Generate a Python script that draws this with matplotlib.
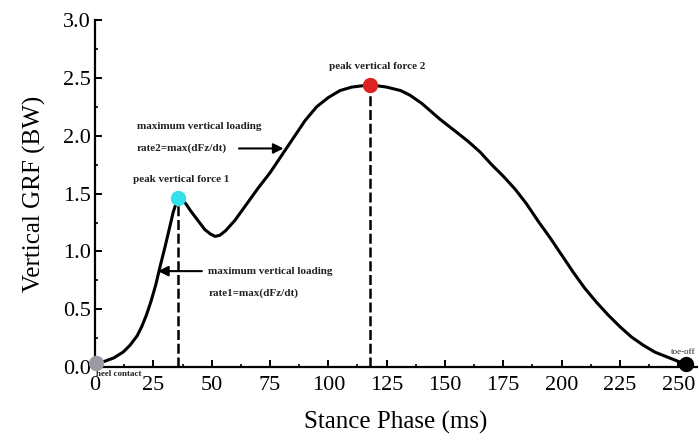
import numpy as np
import matplotlib.pyplot as plt
from matplotlib.ticker import MultipleLocator

# curve (ms, BW)
t = [0, 4, 8, 12, 15, 18, 20, 22, 24, 26, 28, 30, 32, 33.5, 35.5, 37,
     39, 41, 44, 47, 49.5, 51.5, 53.5, 56, 60, 65, 70, 75, 80, 85, 90, 95,
     100, 105, 110, 118, 125, 131, 135, 140, 148, 155, 160, 165, 170, 175,
     180, 185, 190, 195, 200, 205, 210, 215, 220, 225, 230, 235, 240, 245,
     250, 253.5]
grf = [0.04, 0.05, 0.08, 0.13, 0.19, 0.27, 0.35, 0.45, 0.57, 0.71, 0.88,
       1.04, 1.21, 1.34, 1.46, 1.45, 1.41, 1.35, 1.27, 1.19, 1.15, 1.13,
       1.14, 1.18, 1.27, 1.41, 1.55, 1.68, 1.83, 1.98, 2.13, 2.25, 2.33,
       2.39, 2.42, 2.44, 2.42, 2.39, 2.35, 2.28, 2.14, 2.03, 1.95, 1.86,
       1.75, 1.65, 1.54, 1.41, 1.26, 1.12, 0.97, 0.82, 0.68, 0.56, 0.45,
       0.35, 0.26, 0.19, 0.13, 0.09, 0.05, 0.03]

peak1 = (35.5, 1.46)
peak2 = (118, 2.44)
heel = (0.5, 0.04)
toe = (253.5, 0.03)

plt.rcParams['font.family'] = 'Liberation Serif'

fig = plt.figure(figsize=(6.99, 4.44), dpi=100)
ax = fig.add_axes([0.136, 0.173, 0.861, 0.782])

ax.plot(t, grf, color='black', lw=2.2, zorder=3,
        solid_joinstyle='round', solid_capstyle='round')

# dashed drop lines from the peaks
for p in [peak1, peak2]:
    ax.plot([p[0], p[0]], [0, p[1]], color='black', lw=1.8,
            ls=(0, (4, 1.5)), zorder=2)

ax.plot(*heel, 'o', color='#9a9aa6', ms=10, clip_on=False, zorder=4)
ax.plot(*peak1, 'o', color='#35e0e8', ms=10, clip_on=False, zorder=4)
ax.plot(*peak2, 'o', color='#dd2222', ms=10, clip_on=False, zorder=4)
ax.plot(*toe, 'o', color='black', ms=10, clip_on=False, zorder=4)

tk = dict(fontsize=8, fontweight='bold', color='#222222')
ax.text(37, 1.58, 'peak vertical force 1', ha='center', va='bottom', **tk)
ax.text(121, 2.56, 'peak vertical force 2', ha='center', va='bottom', **tk)
ax.text(18, 2.08, 'maximum vertical loading', ha='left', va='center', **tk)
ax.text(18, 1.89, 'rate2=max(dFz/dt)', ha='left', va='center', **tk)
ax.text(48.5, 0.83, 'maximum vertical loading', ha='left', va='center', **tk)
ax.text(48.5, 0.64, 'rate1=max(dFz/dt)', ha='left', va='center', **tk)
ax.text(0.5, -0.055, 'heel contact', ha='left', va='center',
        fontsize=6.5, fontweight='bold', color='#222222', clip_on=False)
ax.text(247, 0.13, 'toe-off', ha='left', va='center',
        fontsize=6.5, color='#222222', clip_on=False)

arr = dict(arrowstyle='-|>', color='black', lw=1.5, mutation_scale=15)
ax.annotate('', xy=(82, 1.89), xytext=(60.5, 1.89), arrowprops=arr)
ax.annotate('', xy=(25.8, 0.83), xytext=(47, 0.83), arrowprops=arr)

ax.set_xlim(0, 258)
ax.set_ylim(0, 3.0)
ax.xaxis.set_minor_locator(MultipleLocator(12.5))
ax.yaxis.set_minor_locator(MultipleLocator(0.25))
ax.set_yticks(np.arange(0, 3.01, 0.5))
ax.set_yticklabels(['%.1f' % v for v in np.arange(0, 3.01, 0.5)])
ax.set_xticks(np.arange(0, 251, 25))

ax.spines['top'].set_visible(False)
ax.spines['right'].set_visible(False)
for s in ['left', 'bottom']:
    ax.spines[s].set_linewidth(1.6)
ax.tick_params(which='major', direction='in', length=5, width=1.4,
               labelsize=16, pad=3)
ax.tick_params(which='minor', direction='in', length=2.5, width=1.2)
ax.tick_params(axis='x', pad=6)

ax.set_xlabel('Stance Phase (ms)', fontsize=18, labelpad=12)
ax.set_ylabel('Vertical GRF (BW)', fontsize=18, labelpad=12)

fig.savefig('out.png', dpi=100)
